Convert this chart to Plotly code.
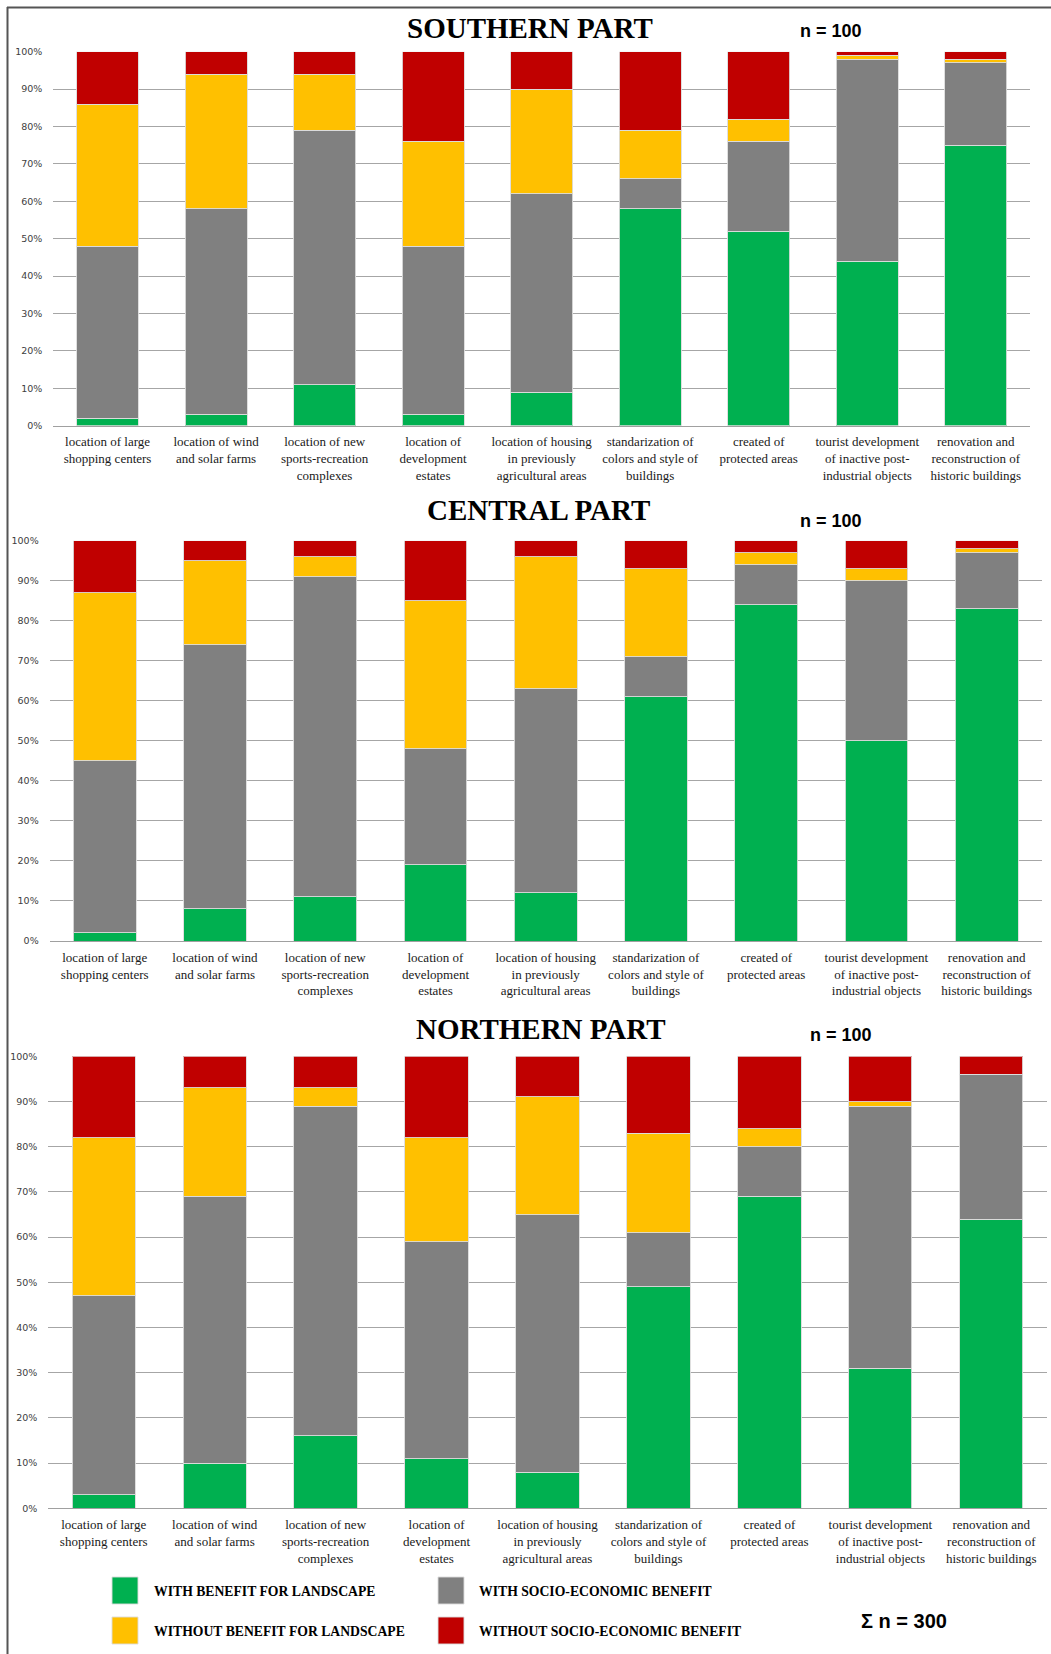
import plotly.graph_objects as go

W, H = 1051, 1654

categories = [
    "location of large<br>shopping centers",
    "location of wind<br>and solar farms",
    "location of new<br>sports-recreation<br>complexes",
    "location of<br>development<br>estates",
    "location of housing<br>in previously<br>agricultural areas",
    "standarization of<br>colors and style of<br>buildings",
    "created of<br>protected areas",
    "tourist development<br>of inactive post-<br>industrial objects",
    "renovation and<br>reconstruction of<br>historic buildings",
]

series_names = [
    "WITH BENEFIT FOR LANDSCAPE",
    "WITH SOCIO-ECONOMIC BENEFIT",
    "WITHOUT BENEFIT FOR LANDSCAPE",
    "WITHOUT SOCIO-ECONOMIC BENEFIT",
]
series_colors = ["#00B050", "#808080", "#FFC000", "#C00000"]

southern_green = [2, 3, 11, 3, 9, 58, 52, 44, 75]
southern_socio = [46, 55, 68, 45, 53, 8, 24, 54, 22]
southern_no_land = [38, 36, 15, 28, 28, 13, 6, 1, 1]
southern_no_socio = [14, 6, 6, 24, 10, 21, 18, 1, 2]

central_green = [2, 8, 11, 19, 12, 61, 84, 50, 83]
central_socio = [43, 66, 80, 29, 51, 10, 10, 40, 14]
central_no_land = [42, 21, 5, 37, 33, 22, 3, 3, 1]
central_no_socio = [13, 5, 4, 15, 4, 7, 3, 7, 2]

northern_green = [3, 10, 16, 11, 8, 49, 69, 31, 64]
northern_socio = [44, 59, 73, 48, 57, 12, 11, 58, 32]
northern_no_land = [35, 24, 4, 23, 26, 22, 4, 1, 0]
northern_no_socio = [18, 7, 7, 18, 9, 17, 16, 10, 4]

panel_titles = ["SOUTHERN PART", "CENTRAL PART", "NORTHERN PART"]
panel_n = ["n = 100", "n = 100", "n = 100"]
total_n = "Σ n = 300"

tick_vals = [0, 10, 20, 30, 40, 50, 60, 70, 80, 90, 100]
tick_text = ["0%", "10%", "20%", "30%", "40%", "50%", "60%", "70%", "80%", "90%", "100%"]

panels = [
    [southern_green, southern_socio, southern_no_land, southern_no_socio],
    [central_green, central_socio, central_no_land, central_no_socio],
    [northern_green, northern_socio, northern_no_land, northern_no_socio],
]

# pixel layout of plot areas: (left, right, top, bottom)
boxes = [
    (53.3, 1030.0, 51.7, 425.7),
    (49.6, 1041.8, 540.7, 941.0),
    (48.2, 1046.8, 1056.3, 1508.3),
]

def px(x):
    return x / W

def py(y):
    return 1 - y / H

fig = go.Figure()
layout_axes = {}
for i, (vals, box) in enumerate(zip(panels, boxes)):
    sfx = "" if i == 0 else str(i + 1)
    for name, color, v in zip(series_names, series_colors, vals):
        fig.add_trace(go.Bar(
            x=categories, y=v, name=name,
            marker=dict(color=color, line=dict(color="rgba(220,220,220,0.9)", width=1)),
            xaxis="x" + sfx, yaxis="y" + sfx, showlegend=False,
        ))
    l, r, t, b = box
    layout_axes["xaxis" + sfx] = dict(
        domain=[px(l), px(r)], anchor="y" + sfx, type="category",
        showgrid=False, showline=True, linecolor="#a0a0a0", linewidth=1,
        ticks="outside", ticklen=4, tickcolor="rgba(0,0,0,0)",
        tickfont=dict(family="Liberation Serif", size=13, color="#1a1a1a"),
        tickangle=0, automargin=False, fixedrange=True,
    )
    layout_axes["yaxis" + sfx] = dict(
        domain=[py(b), py(t)], anchor="x" + sfx, range=[0, 100],
        tickvals=tick_vals, ticktext=tick_text,
        showgrid=True, gridcolor="#a6a6a6", gridwidth=1, zeroline=False,
        showline=False, ticks="outside", ticklen=8, tickcolor="rgba(0,0,0,0)",
        tickfont=dict(family="DejaVu Sans", size=9.5, color="#404040"),
        automargin=False, fixedrange=True,
    )

annotations = []
title_pos = [(530, 28), (538, 510), (541, 1029)]
n_pos = [(831, 31), (831, 521), (841, 1035)]
for title, (tx, ty), n, (nx, ny) in zip(panel_titles, title_pos, panel_n, n_pos):
    annotations.append(dict(
        text="<b>" + title + "</b>", x=px(tx), y=py(ty), xref="paper", yref="paper",
        xanchor="center", yanchor="middle", showarrow=False,
        font=dict(family="Liberation Serif", size=29, color="#000000"),
    ))
    annotations.append(dict(
        text="<b>" + n + "</b>", x=px(nx), y=py(ny), xref="paper", yref="paper",
        xanchor="center", yanchor="middle", showarrow=False,
        font=dict(family="Liberation Sans", size=18, color="#000000"),
    ))

annotations.append(dict(
    text="<b>" + total_n + "</b>", x=px(904), y=py(1621), xref="paper", yref="paper",
    xanchor="center", yanchor="middle", showarrow=False,
    font=dict(family="Liberation Sans", size=20, color="#000000"),
))

shapes = []
legend_pos = [(112, 1577, 152), (438, 1577, 477), (112, 1617, 152), (438, 1617, 477)]
for name, color, (bx, by, tx) in zip(series_names, series_colors, legend_pos):
    shapes.append(dict(
        type="rect", xref="paper", yref="paper",
        x0=px(bx), x1=px(bx + 26), y0=py(by + 27), y1=py(by),
        fillcolor=color, line=dict(color="rgba(220,220,220,0.9)", width=1),
    ))
    annotations.append(dict(
        text="<b>" + name + "</b>", x=px(tx), y=py(by + 14), xref="paper", yref="paper",
        xanchor="left", yanchor="middle", showarrow=False,
        font=dict(family="Liberation Serif", size=13.7, color="#000000"),
    ))

# outer frame (left and top edges)
shapes.append(dict(type="line", xref="paper", yref="paper",
                   x0=px(7.5), x1=px(7.5), y0=0, y1=py(7),
                   line=dict(color="#555555", width=2)))
shapes.append(dict(type="line", xref="paper", yref="paper",
                   x0=px(7), x1=1, y0=py(7.5), y1=py(7.5),
                   line=dict(color="#555555", width=2)))

fig.update_layout(
    width=W, height=H, autosize=False,
    margin=dict(l=0, r=0, t=0, b=0),
    paper_bgcolor="white", plot_bgcolor="white",
    barmode="stack", bargap=0.43,
    showlegend=False,
    annotations=annotations, shapes=shapes,
    **layout_axes,
)

fig.write_html(
    "out.html",
    config={"displayModeBar": False},
    post_script="document.body.style.margin='0';document.body.style.overflow='hidden';",
)
